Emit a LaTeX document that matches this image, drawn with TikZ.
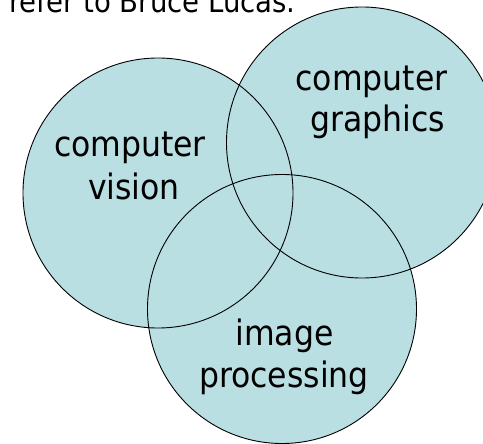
\documentclass[tikz,border=0pt]{standalone}
\usepackage{fontspec}
\setmainfont{DejaVu Sans Condensed}
\definecolor{vennfill}{RGB}{185,223,227}
\tikzset{
  venn/.style={line width=0.9pt, draw=black},
  lbl/.style={anchor=base, inner sep=0pt, font=\fontsize{35}{42}\selectfont},
  caption/.style={anchor=base west, inner sep=0pt, font=\fontsize{30.6}{36}\selectfont}
}
\begin{document}
\begin{tikzpicture}[x=1pt, y=-1pt]
  \useasboundingbox (0,0) rectangle (483,444);
  % circle centres
  \coordinate (cv) at (158,193);
  \coordinate (cg) at (362,142.5);
  \coordinate (ip) at (282,309);
  % fills first, so every outline stays visible on top
  \fill[vennfill] (cv) circle (135pt);
  \fill[vennfill] (cg) circle (135.5pt);
  \fill[vennfill] (ip) circle (134.5pt);
  \draw[venn] (cv) circle (135pt);
  \draw[venn] (cg) circle (135.5pt);
  \draw[venn] (ip) circle (134.5pt);
  % heading line
  \node[caption] (head) at (9,13) {refer to Bruce Lucas.};
  % labels
  \node[lbl] (cv1) at (130,157) {computer};
  \node[lbl] (cv2) at (134,200) {vision};
  \node[lbl] (cg1) at (371.5,91) {computer};
  \node[lbl] (cg2) at (377.5,132) {graphics};
  \node[lbl] (ip1) at (284.5,345) {image};
  \node[lbl] (ip2) at (284,387) {processing};
\end{tikzpicture}
\end{document}
